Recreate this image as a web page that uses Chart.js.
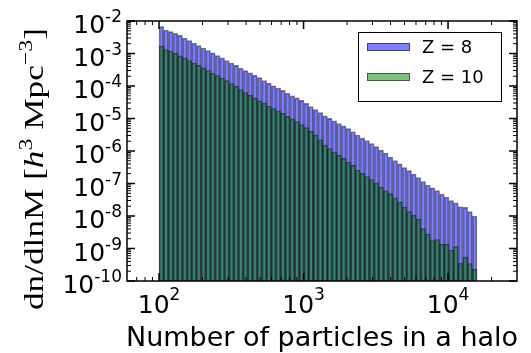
<!DOCTYPE html>
<html>
<head>
<meta charset="utf-8">
<script src="https://cdn.jsdelivr.net/npm/chart.js@4.4.0/dist/chart.umd.min.js"></script>
<style>
  html, body { margin: 0; padding: 0; background: #fff; }
  #wrap { width: 531px; height: 353px; }
</style>
</head>
<body>
<div id="wrap"><canvas id="hmfChart"></canvas></div>
<script>
// log-spaced histogram bins in number of particles
const binLow = 100;
const binHigh = 15850;
const nBins = 68;

// dn/dlnM in each bin
const z8Values = [
  6.7e-3, 5.3e-3, 4.7e-3, 4.2e-3, 3.6e-3, 3.0e-3, 2.5e-3, 2.1e-3, 1.76e-3, 1.48e-3,
  1.24e-3, 1.04e-3, 8.7e-4, 7.3e-4, 6.1e-4, 5.1e-4, 4.3e-4, 3.5e-4, 2.96e-4, 2.53e-4,
  2.15e-4, 1.81e-4, 1.48e-4, 1.22e-4, 1.02e-4, 8.7e-5, 7.3e-5, 6.0e-5, 5.0e-5, 4.3e-5,
  3.6e-5, 2.92e-5, 2.34e-5, 1.89e-5, 1.53e-5, 1.21e-5, 1.01e-5, 8.5e-6, 7.0e-6, 5.9e-6,
  4.9e-6, 3.9e-6, 3.1e-6, 2.5e-6, 2.1e-6, 1.7e-6, 1.36e-6, 1.07e-6, 8.7e-7, 6.5e-7,
  5.1e-7, 4.0e-7, 3.1e-7, 2.5e-7, 1.96e-7, 1.53e-7, 1.15e-7, 9.0e-8, 7.3e-8, 6.1e-8,
  4.75e-8, 3.85e-8, 2.96e-8, 2.56e-8, 1.93e-8, 1.85e-8, 1.36e-8, 1.0e-8
];
const z10Values = [
  1.7e-3, 1.33e-3, 1.19e-3, 1.01e-3, 8.55e-4, 7.3e-4, 6.1e-4, 5.1e-4, 4.3e-4, 3.6e-4,
  3.0e-4, 2.5e-4, 2.1e-4, 1.76e-4, 1.46e-4, 1.19e-4, 9.7e-5, 7.8e-5, 6.3e-5, 5.2e-5,
  4.3e-5, 3.5e-5, 2.96e-5, 2.43e-5, 2.03e-5, 1.7e-5, 1.43e-5, 1.17e-5, 9.7e-6, 8.0e-6,
  6.5e-6, 5.3e-6, 4.1e-6, 3.1e-6, 2.2e-6, 1.53e-6, 1.19e-6, 9.3e-7, 7.5e-7, 5.9e-7,
  4.6e-7, 3.6e-7, 2.6e-7, 2.06e-7, 1.62e-7, 1.33e-7, 1.04e-7, 7.8e-8, 5.9e-8, 4.9e-8,
  3.6e-8, 2.7e-8, 1.89e-8, 1.36e-8, 1.04e-8, 8.1e-9, 4.1e-9, 2.8e-9, 1.76e-9, 1.89e-9,
  1.37e-9, 1.37e-9, 9.0e-10, 1.14e-9, 3.5e-10, 5.4e-10, 3.45e-10, 2.3e-10
];

const seriesLabels = ['Z = 8', 'Z = 10'];
const xTickValues = [1e2, 1e3, 1e4];
const yTickValues = [1e-2, 1e-3, 1e-4, 1e-5, 1e-6, 1e-7, 1e-8, 1e-9, 1e-10];

const blueFill = 'rgba(0, 0, 255, 0.5)';
const greenFill = 'rgba(0, 128, 0, 0.5)';
const edgeColor = 'rgba(0, 0, 0, 0.5)';

// bin centres (geometric mean of the edges)
const binCentres = [];
for (let i = 0; i < nBins; i++) {
  const lo = binLow * Math.pow(binHigh / binLow, i / nBins);
  const hi = binLow * Math.pow(binHigh / binLow, (i + 1) / nBins);
  binCentres.push(Math.sqrt(lo * hi));
}

const toPoints = vals => vals.map((v, i) => ({ x: binCentres[i], y: v }));

const SANS = '"DejaVu Sans", sans-serif';
const SERIF = '"Liberation Serif", "DejaVu Serif", serif';

function drawPower(ctx, base, exp, x, y, align, baseSize, expSize, rise) {
  ctx.font = baseSize + 'px ' + SANS;
  const wb = ctx.measureText(base).width;
  ctx.font = expSize + 'px ' + SANS;
  const we = ctx.measureText(exp).width;
  const total = wb + we;
  let x0 = x;
  if (align === 'right') x0 = x - total;
  else if (align === 'center') x0 = x - total / 2;
  ctx.textAlign = 'left';
  ctx.textBaseline = 'alphabetic';
  ctx.font = baseSize + 'px ' + SANS;
  ctx.fillText(base, x0, y);
  ctx.font = expSize + 'px ' + SANS;
  ctx.fillText(exp, x0 + wb, y - rise);
}

const axesDecor = {
  id: 'axesDecor',
  afterDraw(chart) {
    const ctx = chart.ctx;
    const area = chart.chartArea;
    const xs = chart.scales.x;
    const ys = chart.scales.y;
    ctx.save();
    ctx.fillStyle = '#000';
    ctx.strokeStyle = '#000';

    // tick marks on all four sides, pointing inwards
    const majLen = 8, minLen = 4;
    const tickX = (v, len, lw) => {
      const px = xs.getPixelForValue(v);
      ctx.lineWidth = lw;
      ctx.beginPath();
      ctx.moveTo(px, area.bottom); ctx.lineTo(px, area.bottom - len);
      ctx.moveTo(px, area.top); ctx.lineTo(px, area.top + len);
      ctx.stroke();
    };
    const tickY = (v, len, lw) => {
      const py = ys.getPixelForValue(v);
      ctx.lineWidth = lw;
      ctx.beginPath();
      ctx.moveTo(area.left, py); ctx.lineTo(area.left + len, py);
      ctx.moveTo(area.right, py); ctx.lineTo(area.right - len, py);
      ctx.stroke();
    };
    for (let d = 1; d <= 4; d++) {
      for (let m = 2; m <= 9; m++) {
        const v = m * Math.pow(10, d);
        if (v > xs.min && v < xs.max) tickX(v, minLen, 1);
      }
    }
    xTickValues.forEach(v => tickX(v, majLen, 1.5));
    for (let d = -10; d < -2; d++) {
      for (let m = 2; m <= 9; m++) tickY(m * Math.pow(10, d), minLen, 1);
    }
    yTickValues.forEach(v => tickY(v, majLen, 1.5));

    // frame
    ctx.lineWidth = 1.5;
    ctx.strokeRect(area.left, area.top, area.right - area.left, area.bottom - area.top);

    // tick labels
    yTickValues.forEach(v => {
      const py = ys.getPixelForValue(v);
      const e = Math.round(Math.log10(v));
      drawPower(ctx, '10', '-' + Math.abs(e), area.left - 5, py + 12, 'right', 25, 17, 11);
    });
    xTickValues.forEach(v => {
      const px = xs.getPixelForValue(v);
      const e = Math.round(Math.log10(v));
      drawPower(ctx, '10', String(e), px, 313, 'center', 25, 17, 13);
    });

    // x axis title
    ctx.font = '27px ' + SANS;
    ctx.textAlign = 'center';
    ctx.textBaseline = 'alphabetic';
    ctx.fillText('Number of particles in a halo', 322, 346);

    // y axis title, rotated and stretched along the axis height
    const pieces = [
      { t: 'dn/dlnM [', s: 1, it: false, up: 0 },
      { t: 'h', s: 1, it: true, up: 0 },
      { t: '3', s: 0.68, it: false, up: 0.4 },
      { t: ' Mpc', s: 1, it: false, up: 0 },
      { t: '\u22123', s: 0.68, it: false, up: 0.4 },
      { t: ']', s: 1, it: false, up: 0 }
    ];
    const spanTarget = 282;
    const fs = 28;
    const fontOf = p => (p.it ? 'italic ' : '') + (p.s * fs) + 'px ' + SERIF;
    const natural = pieces.reduce((acc, p) => {
      ctx.font = fontOf(p);
      return acc + ctx.measureText(p.t).width;
    }, 0);
    ctx.save();
    ctx.translate(43, 169);
    ctx.rotate(-Math.PI / 2);
    ctx.scale(spanTarget / natural, 1);
    ctx.textAlign = 'left';
    let cx = -natural / 2;
    pieces.forEach(p => {
      ctx.font = fontOf(p);
      ctx.fillText(p.t, cx, -p.up * fs);
      cx += ctx.measureText(p.t).width;
    });
    ctx.restore();

    // legend
    const lx = 358, ly = 32, lw = 143, lh = 69;
    ctx.fillStyle = '#fff';
    ctx.fillRect(lx, ly, lw, lh);
    ctx.lineWidth = 1;
    ctx.strokeStyle = '#000';
    ctx.strokeRect(lx + 0.5, ly + 0.5, lw, lh);
    const fills = [blueFill, greenFill];
    seriesLabels.forEach((lab, i) => {
      const yy = 43 + i * 30;
      ctx.fillStyle = fills[i];
      ctx.fillRect(367, yy, 43, 8);
      ctx.strokeStyle = edgeColor;
      ctx.strokeRect(367.5, yy + 0.5, 42, 7);
      ctx.fillStyle = '#000';
      ctx.font = '18px ' + SANS;
      ctx.textAlign = 'left';
      ctx.textBaseline = 'middle';
      ctx.fillText(lab, 422, yy + 5);
    });
    ctx.restore();
  }
};

const ctx = document.getElementById('hmfChart').getContext('2d');

const hmfChart = new Chart(ctx, {
  type: 'bar',
  data: {
    datasets: [
      {
        label: seriesLabels[0],
        data: toPoints(z8Values),
        backgroundColor: blueFill,
        borderColor: edgeColor,
        borderWidth: 1,
        order: 1
      },
      {
        label: seriesLabels[1],
        data: toPoints(z10Values),
        backgroundColor: greenFill,
        borderColor: edgeColor,
        borderWidth: 1,
        order: 0
      }
    ]
  },
  options: {
    responsive: true,
    maintainAspectRatio: false,
    animation: false,
    devicePixelRatio: 1,
    layout: { padding: { left: 127, top: 21, right: 14, bottom: 72 } },
    datasets: {
      bar: { grouped: false, barPercentage: 1, categoryPercentage: 1 }
    },
    scales: {
      x: { type: 'logarithmic', min: 60, max: 30000, display: false },
      y: { type: 'logarithmic', min: 1e-10, max: 1e-2, display: false }
    },
    plugins: {
      legend: { display: false },
      tooltip: { enabled: false }
    }
  },
  plugins: [axesDecor]
});
</script>
</body>
</html>
